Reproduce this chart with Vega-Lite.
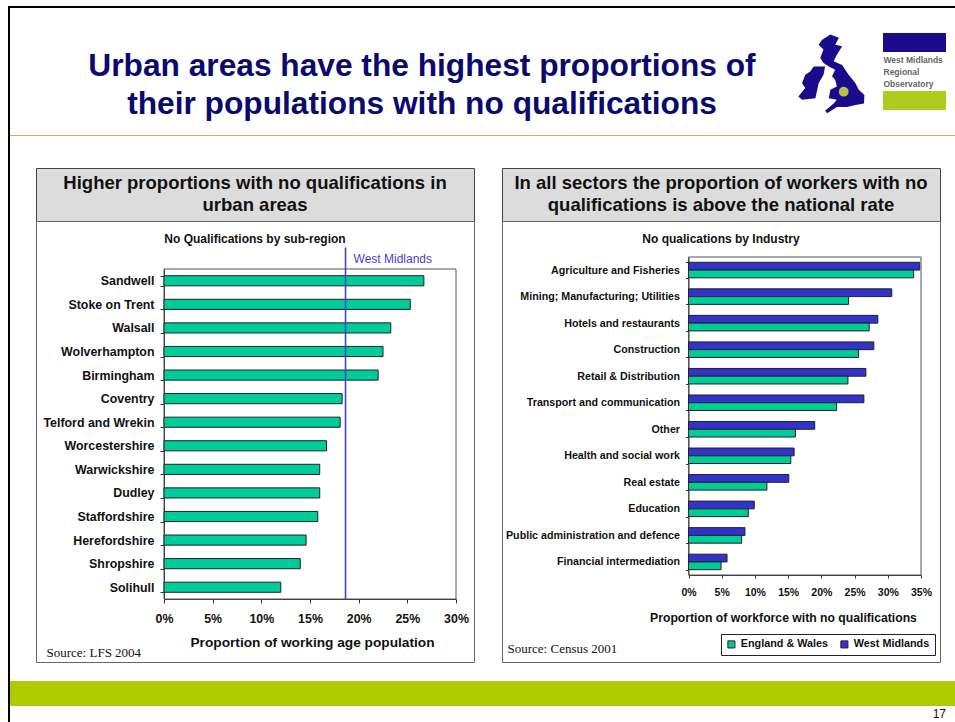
{
  "$schema": "https://vega.github.io/schema/vega-lite/v6.json",
  "padding": {"left": 8, "top": 6, "right": 0, "bottom": 0},
  "background": "white",
  "config": {
    "font": "Liberation Sans",
    "view": {"stroke": null},
    "concat": {"spacing": 0},
    "axis": {"grid": false, "labelFontWeight": "bold", "labelColor": "#111", "titleColor": "#111", "domainColor": "#333", "tickColor": "#333"}
  },
  "datasets": {
    "blank": [{}],
    "subregions": [
      {"area": "Sandwell", "share": 26.7},
      {"area": "Stoke on Trent", "share": 25.3},
      {"area": "Walsall", "share": 23.3},
      {"area": "Wolverhampton", "share": 22.5},
      {"area": "Birmingham", "share": 22.0},
      {"area": "Coventry", "share": 18.3},
      {"area": "Telford and Wrekin", "share": 18.1},
      {"area": "Worcestershire", "share": 16.7},
      {"area": "Warwickshire", "share": 16.0},
      {"area": "Dudley", "share": 16.0},
      {"area": "Staffordshire", "share": 15.8},
      {"area": "Herefordshire", "share": 14.6},
      {"area": "Shropshire", "share": 14.0},
      {"area": "Solihull", "share": 12.0}
    ],
    "regionRate": [{"label": "West Midlands", "rate": 18.65}],
    "leftHeading": [{"chart": "No Qualifications by sub-region"}],
    "rightHeading": [{"chart": "No qualications by Industry"}],
    "industries": [
      {"industry": "Agriculture and Fisheries", "series": "West Midlands", "share": 34.8},
      {"industry": "Agriculture and Fisheries", "series": "England & Wales", "share": 33.9},
      {"industry": "Mining; Manufacturing; Utilities", "series": "West Midlands", "share": 30.6},
      {"industry": "Mining; Manufacturing; Utilities", "series": "England & Wales", "share": 24.1},
      {"industry": "Hotels and restaurants", "series": "West Midlands", "share": 28.5},
      {"industry": "Hotels and restaurants", "series": "England & Wales", "share": 27.2},
      {"industry": "Construction", "series": "West Midlands", "share": 27.9},
      {"industry": "Construction", "series": "England & Wales", "share": 25.6},
      {"industry": "Retail & Distribution", "series": "West Midlands", "share": 26.7},
      {"industry": "Retail & Distribution", "series": "England & Wales", "share": 24.0},
      {"industry": "Transport and communication", "series": "West Midlands", "share": 26.4},
      {"industry": "Transport and communication", "series": "England & Wales", "share": 22.3},
      {"industry": "Other", "series": "West Midlands", "share": 19.0},
      {"industry": "Other", "series": "England & Wales", "share": 16.1},
      {"industry": "Health and social work", "series": "West Midlands", "share": 15.9},
      {"industry": "Health and social work", "series": "England & Wales", "share": 15.4},
      {"industry": "Real estate", "series": "West Midlands", "share": 15.1},
      {"industry": "Real estate", "series": "England & Wales", "share": 11.8},
      {"industry": "Education", "series": "West Midlands", "share": 9.9},
      {"industry": "Education", "series": "England & Wales", "share": 9.0},
      {"industry": "Public administration and defence", "series": "West Midlands", "share": 8.5},
      {"industry": "Public administration and defence", "series": "England & Wales", "share": 8.0},
      {"industry": "Financial intermediation", "series": "West Midlands", "share": 5.8},
      {"industry": "Financial intermediation", "series": "England & Wales", "share": 4.9}
    ]
  },
  "vconcat": [
    {"data": {"name": "blank"}, "mark": {"type": "rect", "opacity": 0}, "width": 947, "height": 2, "view": {"fill": "#000", "stroke": null}},
    {
      "hconcat": [
        {"data": {"name": "blank"}, "mark": {"type": "rect", "opacity": 0}, "width": 2, "height": 714, "view": {"fill": "#000", "stroke": null}},
        {
          "vconcat": [
            {
              "hconcat": [
                {
                  "width": 788, "height": 127,
                  "data": {"values": [{"headline": "Urban areas have the highest proportions of\ntheir populations with no qualifications"}]},
                  "mark": {"type": "text", "lineBreak": "\n", "font": "Liberation Sans", "fontWeight": "bold", "fontSize": 31.7, "lineHeight": 38, "color": "#0b0b6f", "align": "center", "dx": 18, "dy": -6},
                  "encoding": {"text": {"field": "headline"}}
                },
                {
                  "width": 68, "height": 127,
                  "data": {"values": [{"region": "Great Britain and Ireland"}]},
                  "layer": [
                    {"mark": {"type": "point", "filled": true, "opacity": 1, "color": "#1a0a8c", "size": 6561, "yOffset": 2, "shape": "M-.25,-.83L-.04,-.96L.17,-.88L.08,-.71L.25,-.67L.12,-.46L.04,-.3L.25,-.21L.41,.03L.58,.24L.66,.4L.8,.53L.79,.74L.58,.78L.37,.83L.12,.83L-.12,.98L-.17,.92L.04,.74L.12,.65L-.08,.61L-.04,.4L.12,.32L.08,.16L0,.07L.08,-.09L-.08,-.17L-.21,-.26L-.29,-.38L-.21,-.59L-.33,-.71ZM-.45,-.17L-.17,-.17L-.21,.03L-.33,.24L-.41,.61L-.74,.65L-.83,.57L-.66,.36L-.74,.24L-.66,.03L-.54,-.05Z"}},
                    {"mark": {"type": "point", "filled": true, "opacity": 1, "color": "#b7c24c", "size": 6561, "yOffset": 2, "shape": "M.41,.45A.12,.12 0 1 1 .17,.45A.12,.12 0 1 1 .41,.45Z"}}
                  ]
                },
                {"data": {"name": "blank"}, "mark": {"type": "rect", "opacity": 0}, "width": 17, "height": 10},
                {
                  "vconcat": [
                    {"data": {"name": "blank"}, "mark": {"type": "rect", "opacity": 0}, "width": 63, "height": 25},
                    {"data": {"name": "blank"}, "mark": {"type": "rect", "opacity": 0}, "width": 63, "height": 19, "view": {"fill": "#1c0a8c", "stroke": null}},
                    {
                      "width": 63, "height": 39,
                      "data": {"values": [{"owner": "West Midlands\nRegional\nObservatory"}]},
                      "mark": {"type": "text", "lineBreak": "\n", "fontWeight": "bold", "fontSize": 8.5, "lineHeight": 12, "color": "#666", "align": "left", "dx": -31, "dy": -12},
                      "encoding": {"text": {"field": "owner"}}
                    },
                    {"data": {"name": "blank"}, "mark": {"type": "rect", "opacity": 0}, "width": 63, "height": 19, "view": {"fill": "#aecb1e", "stroke": null}}
                  ]
                }
              ]
            },
            {"data": {"name": "blank"}, "mark": {"type": "rect", "opacity": 0}, "width": 945, "height": 1, "view": {"fill": "#a6c84a", "stroke": null}},
            {"data": {"name": "blank"}, "mark": {"type": "rect", "opacity": 0}, "width": 10, "height": 31},
            {
              "hconcat": [
                {"data": {"name": "blank"}, "mark": {"type": "rect", "opacity": 0}, "width": 25, "height": 10},
                {
                  "bounds": "flush",
                  "vconcat": [
                    {
                      "width": 438, "height": 53,
                      "view": {"fill": "#dcdcdc", "stroke": "#444"},
                      "data": {"values": [{"heading": "Higher proportions with no qualifications in\nurban areas"}]},
                      "mark": {"type": "text", "lineBreak": "\n", "fontWeight": "bold", "fontSize": 18.5, "lineHeight": 22, "color": "#111", "align": "center", "dy": -12},
                      "encoding": {"text": {"field": "heading"}}
                    },
                    {
                      "width": 438, "height": 441,
                      "view": {"stroke": "#666", "fill": "white"},
                      "resolve": {"scale": {"y": "independent"}},
                      "layer": [
                        {
                          "data": {"name": "regionRate"},
                          "mark": {"type": "rect", "fill": null, "stroke": "#555", "strokeWidth": 1},
                          "encoding": {
                            "x": {"datum": 0, "type": "quantitative", "scale": {"domain": [0, 30], "range": [128, 420]}},
                            "x2": {"datum": 30},
                            "y": {"datum": 0, "type": "quantitative", "scale": {"domain": [0, 1], "range": [378, 48]}, "axis": null},
                            "y2": {"datum": 1}
                          }
                        },
                        {
                          "data": {"name": "subregions"},
                          "mark": {"type": "bar", "fill": "#00cc99", "stroke": "#222", "strokeWidth": 1},
                          "encoding": {
                            "x": {
                              "field": "share", "type": "quantitative",
                              "scale": {"domain": [0, 30], "range": [128, 420]},
                              "axis": {"orient": "bottom", "offset": -63, "values": [0, 5, 10, 15, 20, 25, 30], "labelExpr": "datum.value + '%'", "labelFlush": false, "labelFontSize": 12.4, "labelPadding": 9, "tickSize": 4, "title": "Proportion of working age population", "titleFontSize": 13.7, "titleFontWeight": "bold", "titleX": 276, "titleY": 43, "titleBaseline": "middle", "titleAlign": "center"}
                            },
                            "y": {
                              "field": "area", "type": "nominal", "sort": null,
                              "scale": {"range": [48, 378], "paddingInner": 0.57, "paddingOuter": 0.285},
                              "axis": {"orient": "left", "offset": -128, "tickBand": "extent", "labelFontSize": 12.4, "labelPadding": 6, "tickSize": 4, "labelLimit": 130, "title": "Source: LFS 2004", "titleFont": "Liberation Serif", "titleFontWeight": "normal", "titleFontSize": 13, "titleAngle": 0, "titleAlign": "left", "titleBaseline": "alphabetic", "titleX": -118, "titleY": 435}
                            }
                          }
                        },
                        {
                          "data": {"name": "regionRate"},
                          "mark": {"type": "rule", "color": "#4444cc", "strokeWidth": 1.6},
                          "encoding": {
                            "x": {"field": "rate", "type": "quantitative", "scale": {"domain": [0, 30], "range": [128, 420]}},
                            "y": {"datum": 0, "type": "quantitative", "scale": {"domain": [0, 1], "range": [378, 48]}, "axis": null},
                            "y2": {"datum": 1.065}
                          }
                        },
                        {
                          "data": {"name": "regionRate"},
                          "mark": {"type": "text", "color": "#4444cc", "fontSize": 12, "align": "left", "dx": 8},
                          "encoding": {
                            "x": {"field": "rate", "type": "quantitative", "scale": {"domain": [0, 30], "range": [128, 420]}},
                            "y": {"datum": 1.03, "type": "quantitative", "scale": {"domain": [0, 1], "range": [378, 48]}, "axis": null},
                            "text": {"field": "label"}
                          }
                        },
                        {
                          "data": {"name": "leftHeading"},
                          "mark": {"type": "text", "color": "#111", "fontSize": 12, "fontWeight": "bold", "align": "center"},
                          "encoding": {
                            "y": {"datum": 1.09, "type": "quantitative", "scale": {"domain": [0, 1], "range": [378, 48]}, "axis": null},
                            "text": {"field": "chart"}
                          }
                        }
                      ]
                    }
                  ]
                },
                {"data": {"name": "blank"}, "mark": {"type": "rect", "opacity": 0}, "width": 26, "height": 10},
                {
                  "bounds": "flush",
                  "vconcat": [
                    {
                      "width": 438, "height": 53,
                      "view": {"fill": "#dcdcdc", "stroke": "#444"},
                      "data": {"values": [{"heading": "In all sectors the proportion of workers with no\nqualifications is above the national rate"}]},
                      "mark": {"type": "text", "lineBreak": "\n", "fontWeight": "bold", "fontSize": 18.5, "lineHeight": 22, "color": "#111", "align": "center", "dy": -12},
                      "encoding": {"text": {"field": "heading"}}
                    },
                    {
                      "width": 438, "height": 441,
                      "view": {"stroke": "#666", "fill": "white"},
                      "resolve": {"scale": {"y": "independent"}},
                      "layer": [
                        {
                          "data": {"name": "blank"},
                          "mark": {"type": "rect", "fill": null, "stroke": "#555", "strokeWidth": 1},
                          "encoding": {
                            "x": {"datum": 0, "type": "quantitative", "scale": {"domain": [0, 35], "range": [186.5, 419]}},
                            "x2": {"datum": 35},
                            "y": {"datum": 0, "type": "quantitative", "scale": {"domain": [0, 1], "range": [354, 36]}, "axis": null},
                            "y2": {"datum": 1}
                          }
                        },
                        {
                          "data": {"name": "industries"},
                          "mark": {"type": "bar", "stroke": "#222", "strokeWidth": 1},
                          "encoding": {
                            "x": {
                              "field": "share", "type": "quantitative",
                              "scale": {"domain": [0, 35], "range": [186.5, 419]},
                              "axis": {"orient": "bottom", "offset": -87, "values": [0, 5, 10, 15, 20, 25, 30, 35], "labelExpr": "datum.value + '%'", "labelFlush": false, "labelFontSize": 10.5, "labelPadding": 9, "tickSize": 3, "title": "Proportion of workforce with no qualifications", "titleFontSize": 12.2, "titleFontWeight": "bold", "titleX": 281, "titleY": 42, "titleBaseline": "middle", "titleAlign": "center"}
                            },
                            "y": {
                              "field": "industry", "type": "nominal", "sort": null,
                              "scale": {"range": [36, 354], "paddingInner": 0.415, "paddingOuter": 0.2},
                              "axis": {"orient": "left", "offset": -186.5, "tickBand": "extent", "labelFontSize": 10.7, "labelPadding": 6, "tickSize": 3, "labelLimit": 190, "title": "Source: Census 2001", "titleFont": "Liberation Serif", "titleFontWeight": "normal", "titleFontSize": 13, "titleAngle": 0, "titleAlign": "left", "titleBaseline": "alphabetic", "titleX": -181.5, "titleY": 431}
                            },
                            "yOffset": {"field": "series", "type": "nominal", "scale": {"domain": ["West Midlands", "England & Wales"], "paddingInner": 0}},
                            "fill": {
                              "field": "series", "type": "nominal",
                              "scale": {"domain": ["England & Wales", "West Midlands"], "range": ["#00cc99", "#3333cc"]},
                              "legend": {"orient": "none", "legendX": 713, "legendY": 628, "direction": "horizontal", "title": null, "symbolType": "square", "symbolSize": 50, "symbolStrokeColor": "#222", "symbolStrokeWidth": 1, "labelFontWeight": "bold", "labelFontSize": 10.8, "labelColor": "#111", "strokeColor": "#222", "fillColor": "white", "padding": 5, "columnPadding": 10}
                            }
                          }
                        },
                        {
                          "data": {"name": "rightHeading"},
                          "mark": {"type": "text", "color": "#111", "fontSize": 12, "fontWeight": "bold", "align": "center"},
                          "encoding": {
                            "y": {"datum": 1.057, "type": "quantitative", "scale": {"domain": [0, 1], "range": [354, 36]}, "axis": null},
                            "text": {"field": "chart"}
                          }
                        }
                      ]
                    }
                  ]
                }
              ]
            },
            {"data": {"name": "blank"}, "mark": {"type": "rect", "opacity": 0}, "width": 10, "height": 18},
            {
              "data": {"name": "blank"}, "mark": {"type": "rect", "opacity": 0},
              "width": 945, "height": 25,
              "view": {"fill": "#aecb00", "stroke": null},
              "title": {"text": "17", "orient": "bottom", "anchor": "end", "fontSize": 12, "fontWeight": "normal", "color": "#111", "offset": 3, "dx": -9}
            }
          ]
        }
      ]
    }
  ]
}
